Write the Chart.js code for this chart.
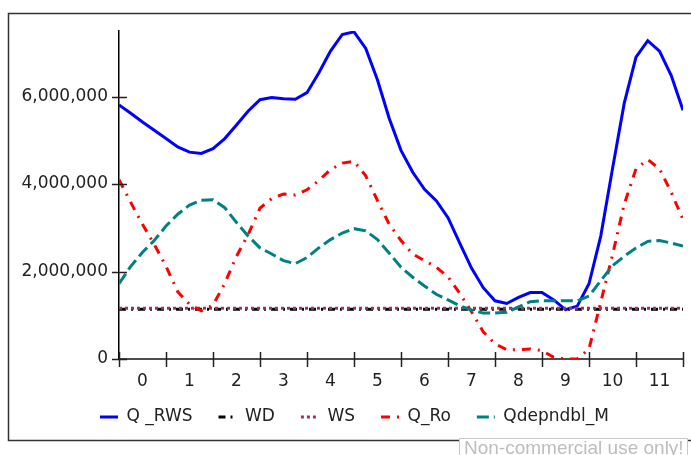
<!DOCTYPE html>
<html>
<head>
<meta charset="utf-8">
<script src="https://cdn.jsdelivr.net/npm/chart.js@4.4.0/dist/chart.umd.min.js"></script>
<style>
  body { margin: 0; background: #fff; }
  #wrap { position: relative; width: 691px; height: 455px; overflow: hidden; }
  #note {
    position: absolute; left: 459px; top: 438px; width: 229px; height: 20px;
    border: 1px solid #c8c8c8; background: #fff; color: #bdbdbd;
    font: 19px "Liberation Sans", Arial, sans-serif; line-height: 17px;
    padding-left: 4px; box-sizing: border-box; white-space: nowrap;
  }
</style>
</head>
<body>
<div id="wrap">
  <canvas id="chart" width="691" height="455"></canvas>
  <div id="note">Non-commercial use only!</div>
</div>
<script>
// categories shown on the x axis
var xLabels = ['0', '1', '2', '3', '4', '5', '6', '7', '8', '9', '10', '11'];
// sample positions (4 per category, edge to edge)
var xSteps = [-0.5, -0.25, 0, 0.25, 0.5, 0.75, 1, 1.25, 1.5, 1.75, 2, 2.25, 2.5, 2.75,
  3, 3.25, 3.5, 3.75, 4, 4.25, 4.5, 4.75, 5, 5.25, 5.5, 5.75, 6, 6.25, 6.5, 6.75,
  7, 7.25, 7.5, 7.75, 8, 8.25, 8.5, 8.75, 9, 9.25, 9.5, 9.75, 10, 10.25, 10.5, 10.75,
  11, 11.25, 11.5];
var yTicks = [0, 2000000, 4000000, 6000000];

var qRWS = [5810000, 5620000, 5420000, 5230000, 5040000, 4850000, 4730000, 4700000, 4810000,
  5040000, 5350000, 5670000, 5930000, 5980000, 5950000, 5940000, 6090000, 6540000, 7040000,
  7420000, 7480000, 7100000, 6380000, 5500000, 4770000, 4270000, 3880000, 3620000, 3230000,
  2650000, 2080000, 1630000, 1330000, 1270000, 1410000, 1520000, 1520000, 1350000, 1130000,
  1210000, 1720000, 2810000, 4350000, 5850000, 6900000, 7280000, 7040000, 6480000, 5690000];
var wd = [1140000, 1140000, 1140000, 1140000, 1140000, 1140000, 1140000, 1140000, 1140000,
  1140000, 1140000, 1140000, 1140000, 1140000, 1140000, 1140000, 1140000, 1140000, 1140000,
  1140000, 1140000, 1140000, 1140000, 1140000, 1140000, 1140000, 1140000, 1140000, 1140000,
  1140000, 1140000, 1140000, 1140000, 1140000, 1140000, 1140000, 1140000, 1140000, 1140000,
  1140000, 1140000, 1140000, 1140000, 1140000, 1140000, 1140000, 1140000, 1140000, 1140000];
var ws = [1160000, 1160000, 1160000, 1160000, 1160000, 1160000, 1160000, 1160000, 1160000,
  1160000, 1160000, 1160000, 1160000, 1160000, 1160000, 1160000, 1160000, 1160000, 1160000,
  1160000, 1160000, 1160000, 1160000, 1160000, 1160000, 1160000, 1160000, 1160000, 1160000,
  1160000, 1160000, 1160000, 1160000, 1160000, 1160000, 1160000, 1160000, 1160000, 1160000,
  1160000, 1160000, 1160000, 1160000, 1160000, 1160000, 1160000, 1160000, 1160000, 1160000];
var qRo = [4100000, 3580000, 3080000, 2620000, 2120000, 1540000, 1250000, 1100000, 1230000,
  1730000, 2350000, 2850000, 3450000, 3670000, 3770000, 3750000, 3870000, 4080000, 4330000,
  4480000, 4520000, 4190000, 3620000, 3080000, 2710000, 2400000, 2250000, 2100000, 1880000,
  1500000, 1080000, 620000, 350000, 210000, 210000, 230000, 190000, 40000, 0,
  0, 230000, 1300000, 2380000, 3540000, 4350000, 4560000, 4350000, 3810000, 3190000];
var qDep = [1720000, 2120000, 2440000, 2710000, 3040000, 3310000, 3520000, 3630000, 3640000,
  3460000, 3120000, 2810000, 2540000, 2400000, 2250000, 2180000, 2320000, 2540000, 2730000,
  2880000, 2980000, 2930000, 2730000, 2420000, 2100000, 1870000, 1670000, 1480000, 1350000,
  1220000, 1120000, 1050000, 1050000, 1070000, 1190000, 1310000, 1330000, 1330000, 1330000,
  1330000, 1440000, 1790000, 2130000, 2350000, 2540000, 2690000, 2710000, 2650000, 2580000];

Chart.defaults.font.family = '"DejaVu Sans", Verdana, sans-serif';
Chart.defaults.color = '#222';

function pts(arr) {
  return arr.map(function (v, i) { return { x: xSteps[i], y: v }; });
}

function series(label, arr, color, dash, order) {
  return {
    label: label,
    data: pts(arr),
    xAxisID: 'xs',
    borderColor: color,
    backgroundColor: color,
    borderWidth: 3,
    borderDash: dash,
    borderCapStyle: 'butt',
    pointRadius: 0,
    tension: 0,
    fill: false,
    order: order
  };
}

var decor = {
  id: 'decor',
  beforeDraw: function (chart) {
    // legend row sits under the plot, starting below the y labels
    if (chart.legend) {
      chart.legend.left = 74;
      chart.legend.top = chart.chartArea.bottom + 23.5;
    }
  },
  afterDraw: function (chart) {
    var ctx = chart.ctx, ca = chart.chartArea;
    var ys = chart.scales.y, xs = chart.scales.xs;
    ctx.save();
    // outer frame
    ctx.strokeStyle = '#333';
    ctx.lineWidth = 1.5;
    ctx.strokeRect(8.5, 13.5, 720, 427);
    // tick marks crossing the axes
    ctx.strokeStyle = '#222';
    ctx.lineWidth = 1.5;
    ctx.beginPath();
    ys.ticks.forEach(function (t) {
      var p = Math.round(ys.getPixelForValue(t.value)) + 0.5;
      ctx.moveTo(ca.left - 7, p);
      ctx.lineTo(ca.left + 8, p);
    });
    for (var i = 0; i <= xLabels.length; i++) {
      var px = Math.round(xs.getPixelForValue(i - 0.5)) + 0.5;
      ctx.moveTo(px, ca.bottom - 7);
      ctx.lineTo(px, ca.bottom + 8);
    }
    ctx.stroke();
    ctx.restore();
  }
};

var ctx1 = document.getElementById('chart').getContext('2d');
new Chart(ctx1, {
  type: 'line',
  data: {
    labels: xLabels,
    datasets: [
      series('Q _RWS', qRWS, '#0000ff', [], 5),
      series('WD', wd, '#000000', [7, 5, 2, 5], 4),
      series('WS', ws, '#993366', [3, 3], 3),
      series('Q_Ro', qRo, '#ff0000', [9, 7, 2, 7], 2),
      series('Qdepndbl_M', qDep, '#008080', [12, 5], 1)
    ]
  },
  options: {
    responsive: false,
    animation: false,
    layout: { padding: { left: 0, right: 8, top: 31, bottom: 3 } },
    scales: {
      x: {
        type: 'category',
        labels: xLabels,
        offset: true,
        position: 'bottom',
        grid: { display: false, drawTicks: false, offset: true },
        border: { display: true, color: '#4d4d4d', width: 2 },
        ticks: { padding: 12, maxRotation: 0, autoSkip: false, font: { size: 17 } },
        afterFit: function (s) { s.height = 40; }
      },
      xs: {
        type: 'linear',
        display: false,
        min: -0.5,
        max: 11.5
      },
      y: {
        min: 0,
        max: 7500000,
        grid: { display: false, drawTicks: false },
        border: { display: true, color: '#000', width: 1.5 },
        ticks: {
          padding: 11,
          font: { size: 17 },
          callback: function (v) { return Number(v).toLocaleString('en-US'); }
        },
        afterBuildTicks: function (s) {
          s.ticks = yTicks.map(function (v) { return { value: v }; });
        },
        afterFit: function (s) { s.width = 119; }
      }
    },
    plugins: {
      tooltip: { enabled: false },
      legend: {
        position: 'bottom',
        align: 'start',
        labels: {
          usePointStyle: true,
          pointStyle: 'line',
          pointStyleWidth: 18,
          padding: 26,
          color: '#222',
          font: { size: 17 },
          generateLabels: function (chart) {
            var items = Chart.defaults.plugins.legend.labels.generateLabels(chart);
            items.forEach(function (it) {
              var ds = chart.data.datasets[it.datasetIndex];
              it.lineDash = ds.borderDash;
              it.lineWidth = ds.borderWidth;
              it.strokeStyle = ds.borderColor;
            });
            return items;
          },
          sort: function (a, b) { return a.datasetIndex - b.datasetIndex; }
        }
      }
    }
  },
  plugins: [decor]
});
</script>
</body>
</html>
